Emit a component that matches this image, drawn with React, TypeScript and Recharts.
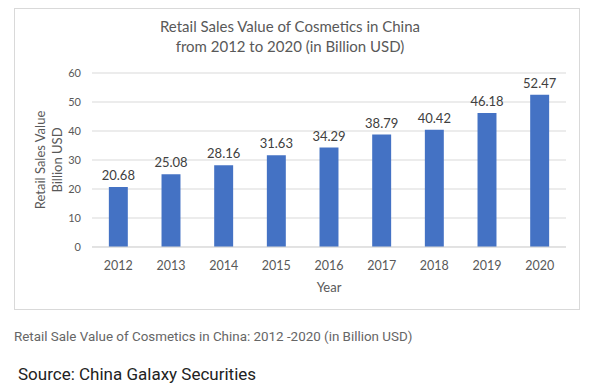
import { BarChart, Bar, XAxis, YAxis, CartesianGrid, LabelList } from 'recharts'

const years = ['2012', '2013', '2014', '2015', '2016', '2017', '2018', '2019', '2020']
const salesValues = [20.68, 25.08, 28.16, 31.63, 34.29, 38.79, 40.42, 46.18, 52.47]
const yTicks = [0, 10, 20, 30, 40, 50, 60]

const chartFont = 'Lato, "Liberation Sans", sans-serif'
const textGray = '#595959'

function YLabel(props: any) {
  const vb = props.viewBox || {}
  const cy = vb.y + vb.height / 2
  return (
    <g fontFamily={chartFont} fontSize={13} fill={textGray}>
      <text x={40} y={cy} transform={`rotate(-90, 40, ${cy})`} textAnchor="middle" dominantBaseline="central">
        Retail Sales Value
      </text>
      <text x={57} y={cy} transform={`rotate(-90, 57, ${cy})`} textAnchor="middle" dominantBaseline="central">
        Billion USD
      </text>
    </g>
  )
}

export default function App() {
  const data = years.map((year, i) => ({ year, value: salesValues[i] }))

  return (
    <div style={{ position: 'absolute', left: 0, top: 0, width: 589, height: 391, background: '#fff' }}>
      <div
        style={{
          position: 'absolute',
          left: 14,
          top: 8,
          width: 564,
          height: 300,
          border: '1px solid #d9d9d9',
        }}
      />
      <div
        style={{
          position: 'absolute',
          left: 0,
          top: 16,
          width: 580,
          textAlign: 'center',
          fontFamily: chartFont,
          fontSize: 15,
          lineHeight: '20px',
          color: textGray,
        }}
      >
        Retail Sales Value of Cosmetics in China
        <br />
        from 2012 to 2020 (in Billion USD)
      </div>
      <div style={{ position: 'absolute', left: 0, top: 0 }}>
        <BarChart width={589} height={310} data={data} margin={{ top: 73, right: 23, bottom: 0, left: 0 }} barCategoryGap="68%">
          <CartesianGrid vertical={false} stroke="#d9d9d9" />
          <XAxis
            dataKey="year"
            tickLine={false}
            axisLine={{ stroke: '#d9d9d9' }}
            tickMargin={8}
            tick={{ fill: textGray, fontSize: 12.5, fontFamily: chartFont }}
            label={{ value: 'Year', position: 'insideBottom', offset: 18, fill: textGray, fontSize: 13, fontFamily: chartFont }}
            height={63}
          />
          <YAxis
            width={92}
            domain={[0, 60]}
            ticks={yTicks}
            tickLine={false}
            axisLine={false}
            tickMargin={5}
            tick={{ fill: textGray, fontSize: 11, fontFamily: chartFont }}
            label={<YLabel />}
          />
          <Bar dataKey="value" fill="#4472C4" isAnimationActive={false}>
            <LabelList dataKey="value" position="top" offset={7} fill="#404040" fontSize={13} fontFamily={chartFont} formatter={(v: any) => Number(v).toFixed(2)} />
          </Bar>
        </BarChart>
      </div>
      <div
        style={{
          position: 'absolute',
          left: 14,
          top: 329,
          fontFamily: 'Roboto, sans-serif',
          fontSize: 13.4,
          color: '#666',
          whiteSpace: 'nowrap',
        }}
      >
        Retail Sale Value of Cosmetics in China: 2012 -2020 (in Billion USD)
      </div>
      <div
        style={{
          position: 'absolute',
          left: 18,
          top: 364,
          fontFamily: 'Roboto, sans-serif',
          fontSize: 17,
          color: '#222',
          whiteSpace: 'nowrap',
        }}
      >
        Source: China Galaxy Securities
      </div>
    </div>
  )
}
